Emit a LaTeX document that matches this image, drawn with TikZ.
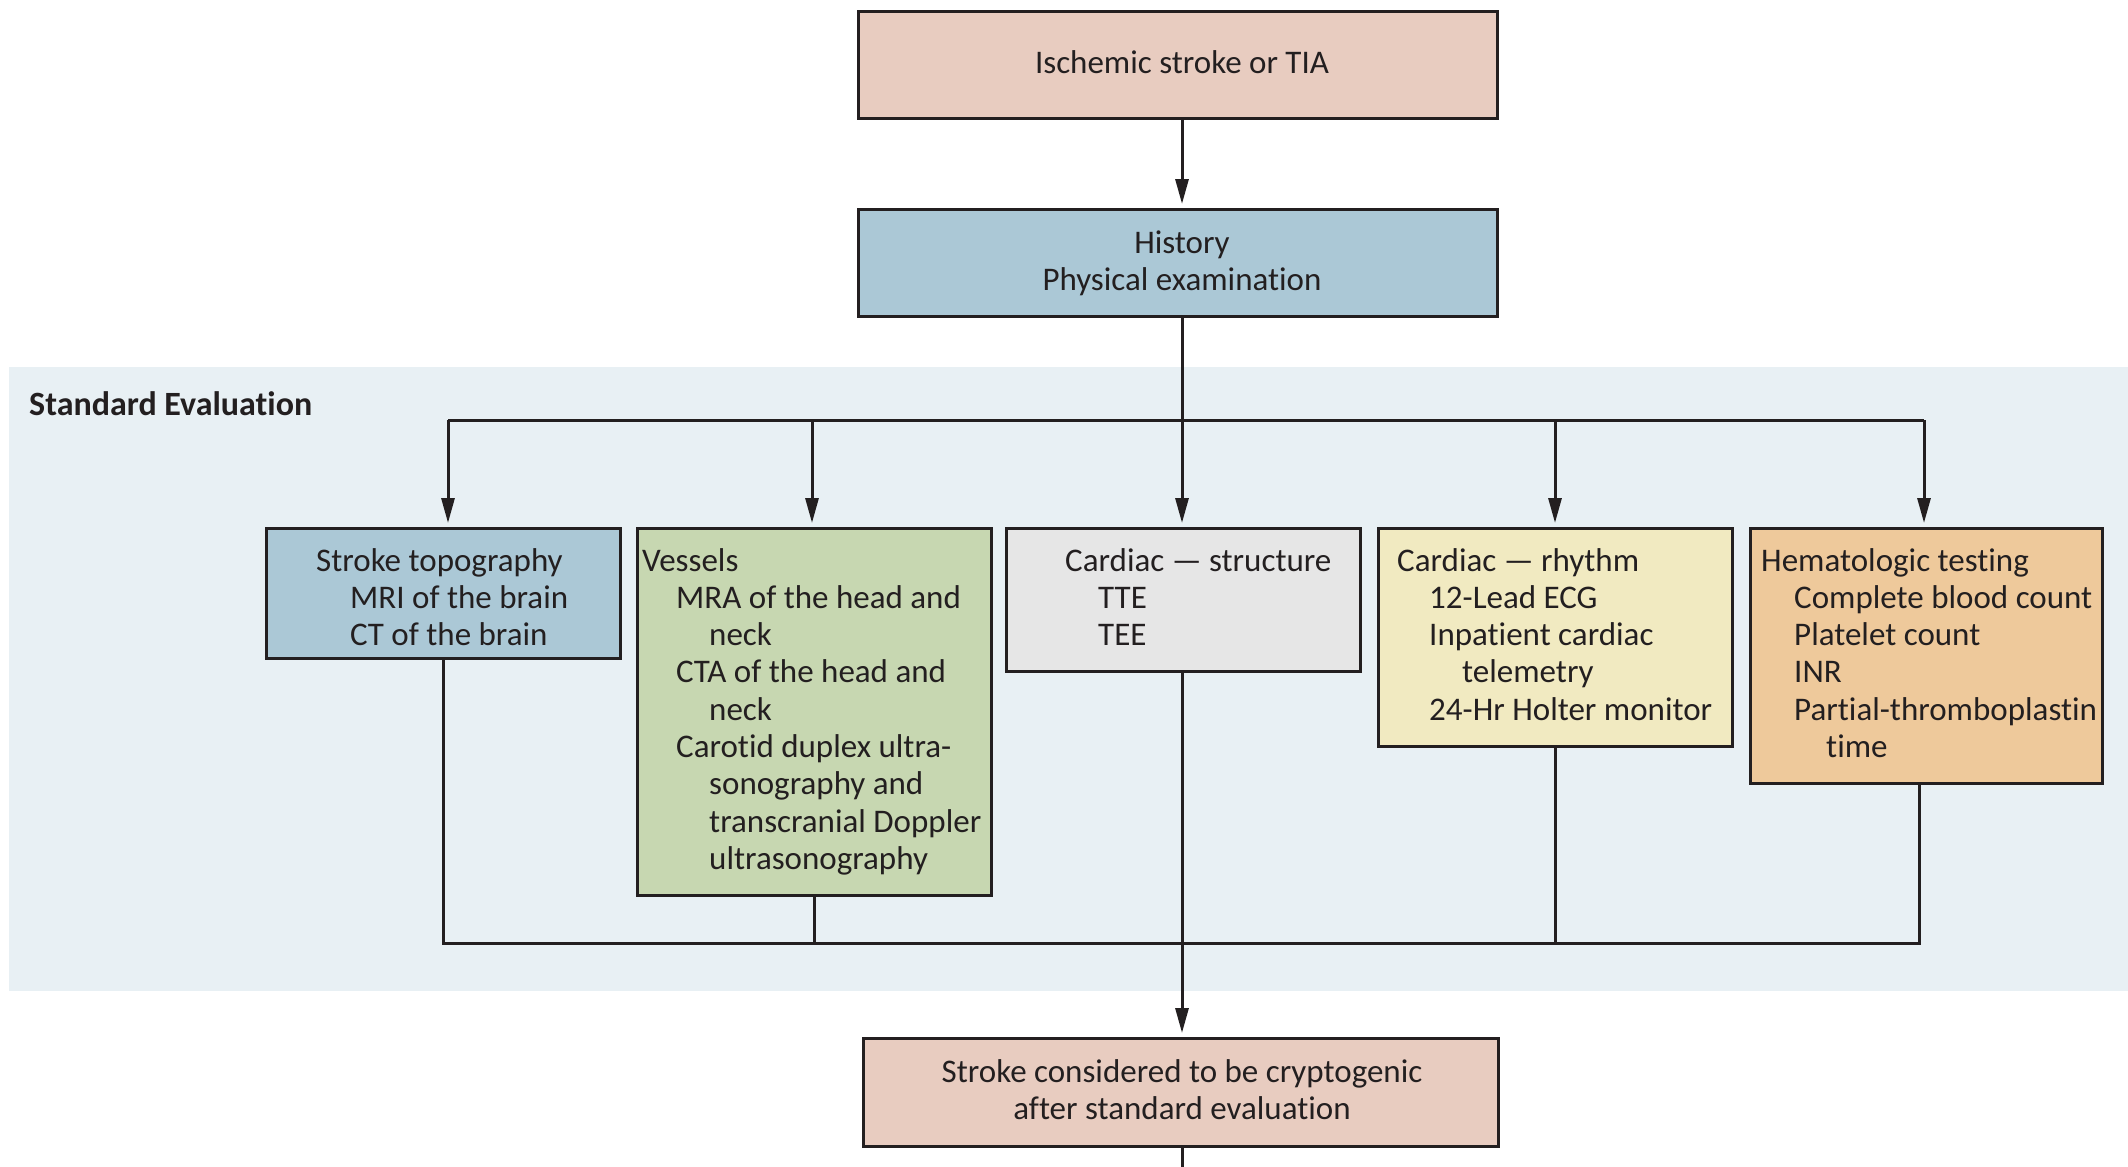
\documentclass[tikz,border=0pt]{standalone}
\usepackage{fontspec}
\setmainfont{Carlito}[Ligatures=NoCommon]
\usetikzlibrary{arrows.meta}
\definecolor{ink}{HTML}{231F20}
\definecolor{pinkbox}{HTML}{E8CCC0}
\definecolor{bluebox}{HTML}{ABC8D6}
\definecolor{bandbg}{HTML}{E8F0F4}
\definecolor{greenbox}{HTML}{C7D7B1}
\definecolor{greybox}{HTML}{E6E6E6}
\definecolor{yellowbox}{HTML}{F1EAC1}
\definecolor{orangebox}{HTML}{EEC99B}
\newcommand\cstack[1]{\vtop{\halign{\hfil##\hfil\cr#1\crcr}}}
\newcommand\lstack[1]{\vtop{\halign{##\hfil\cr#1\crcr}}}
\begin{document}
\begin{tikzpicture}[x=1pt,y=-1pt,
  boxst/.style={draw=ink, line width=3.2pt, inner sep=0pt, anchor=north west},
  txt/.style={inner sep=0pt, anchor=base west, text=ink, font=\fontsize{33}{37.3}\selectfont},
  ctxt/.style={inner sep=0pt, anchor=base, text=ink, font=\fontsize{33}{37.3}\selectfont},
  conn/.style={draw=ink, line width=3pt, line join=miter},
  arr/.style={conn, -{Triangle[length=25pt,width=13pt]}, shorten >=4pt}]
\useasboundingbox (0,0) rectangle (2128,1167);
\fill[bandbg] (9,367) rectangle (2128,991);
\node[txt, font=\fontsize{34}{37.3}\selectfont\bfseries] (title) at (29,415) {Standard Evaluation};
% boxes
\node[boxst, fill=pinkbox, minimum width=639pt, minimum height=107pt] (top) at (857,10) {};
\node[boxst, fill=bluebox, minimum width=639pt, minimum height=107pt] (hist) at (857,208) {};
\node[boxst, fill=bluebox, minimum width=354pt, minimum height=130pt] (b1) at (265,527) {};
\node[boxst, fill=greenbox, minimum width=354pt, minimum height=367pt] (b2) at (636,527) {};
\node[boxst, fill=greybox, minimum width=354pt, minimum height=143pt] (b3) at (1005,527) {};
\node[boxst, fill=yellowbox, minimum width=354pt, minimum height=218pt] (b4) at (1377,527) {};
\node[boxst, fill=orangebox, minimum width=352pt, minimum height=255pt] (b5) at (1749,527) {};
\node[boxst, fill=pinkbox, minimum width=635pt, minimum height=108pt] (bot) at (862,1037) {};
% texts
\node[ctxt] (ttop) at (1182,73) {Ischemic stroke or TIA};
\node[ctxt] (thist) at (1182,253) {\cstack{History\cr Physical examination}};
\node[txt] (t1) at (316,571) {\lstack{Stroke topography\cr
  \hskip34pt MRI of the brain\cr
  \hskip34pt CT of the brain}};
\node[txt] (t2) at (642,571) {\lstack{Vessels\cr
  \hskip34pt MRA of the head and\cr
  \hskip67pt neck\cr
  \hskip34pt CTA of the head and\cr
  \hskip67pt neck\cr
  \hskip34pt Carotid duplex ultra-\cr
  \hskip67pt sonography and\cr
  \hskip67pt transcranial Doppler\cr
  \hskip67pt ultrasonography}};
\node[txt] (t3) at (1065,571) {\lstack{Cardiac — structure\cr
  \hskip33pt TTE\cr
  \hskip33pt TEE}};
\node[txt] (t4) at (1397,571) {\lstack{Cardiac — rhythm\cr
  \hskip32pt 12-Lead ECG\cr
  \hskip32pt Inpatient cardiac\cr
  \hskip65pt telemetry\cr
  \hskip32pt 24-Hr Holter monitor}};
\node[txt] (t5) at (1761,571) {\lstack{Hematologic testing\cr
  \hskip33pt Complete blood count\cr
  \hskip33pt Platelet count\cr
  \hskip33pt INR\cr
  \hskip33pt Partial-thromboplastin\cr
  \hskip65pt time}};
\node[ctxt] (tbot) at (1182,1082) {\cstack{Stroke considered to be cryptogenic\cr after standard evaluation}};
% coordinates
\coordinate (a1) at (448,420);
\coordinate (a2) at (812,420);
\coordinate (a3) at (1182,420);
\coordinate (a4) at (1555,420);
\coordinate (a5) at (1924,420);
\coordinate (c1) at (443,943);
\coordinate (c2) at (814,943);
\coordinate (c3) at (1182,943);
\coordinate (c4) at (1555,943);
\coordinate (c5) at (1919,943);
\coordinate (endc) at (1182,1167);
% connectors
\draw[arr] (top.south -| a3) -- (hist.north -| a3);
\draw[conn] (hist.south -| a3) -- (a3);
\draw[conn] (a1) -- (a5);
\draw[arr] (a1) -- (a1 |- b1.north);
\draw[arr] (a2) -- (a2 |- b2.north);
\draw[arr] (a3) -- (a3 |- b3.north);
\draw[arr] (a4) -- (a4 |- b4.north);
\draw[arr] (a5) -- (a5 |- b5.north);
\draw[conn] (b1.south -| c1) -- (c1) -- (c5) -- (b5.south -| c5);
\draw[conn] (b2.south -| c2) -- (c2);
\draw[conn] (b4.south -| c4) -- (c4);
\draw[arr] (b3.south -| c3) -- (bot.north -| c3);
\draw[conn] (bot.south -| c3) -- (endc);
\end{tikzpicture}
\end{document}
